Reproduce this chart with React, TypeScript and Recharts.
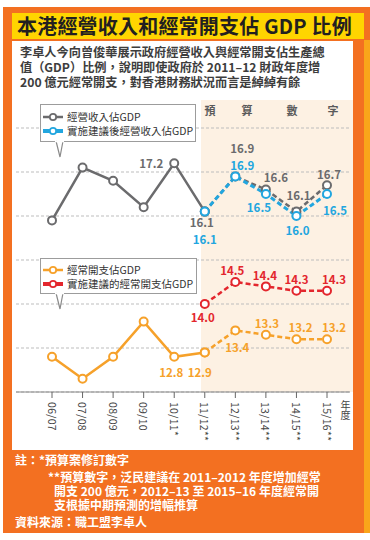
import React from 'react';
import { LineChart, Line, XAxis, YAxis, CartesianGrid, Legend, LabelList } from 'recharts';

const years = ['06/07', '07/08', '08/09', '09/10', '10/11*', '11/12**', '12/13**', '13/14**', '14/15**', '15/16**'];
const incomeRatio = [15.9, 17.1, 16.8, 16.2, 17.2, 16.1, 16.9, 16.6, 16.1, 16.7];
const proposedIncomeRatio = [null, null, null, null, null, 16.1, 16.9, 16.5, 16.0, 16.5];
const expenditureRatio = [12.8, 12.3, 12.8, 13.6, 12.8, 12.9, 13.4, 13.3, 13.2, 13.2];
const proposedExpenditureRatio = [null, null, null, null, null, 14.0, 14.5, 14.4, 14.3, 14.3];
const forecastStart = 5;
const yTicks = [12, 13, 14, 15, 16, 17, 18];

const seriesNames = {
  income: '經營收入佔GDP',
  proposedIncome: '實施建議後經營收入佔GDP',
  expenditure: '經常開支佔GDP',
  proposedExpenditure: '實施建議的經常開支佔GDP',
};

const COLORS = {
  income: '#6b6b6d',
  proposedIncome: '#22a6df',
  expenditure: '#f6a12a',
  proposedExpenditure: '#e3262d',
};

// label placement (offsets from point), styling only
const incomeLabelPos: Record<number, [number, number]> = { 4: [-23, 0], 5: [-3, 10], 6: [7, -28], 7: [10, -13], 8: [2, -17], 9: [2, -11] };
const proposedIncomeLabelPos: Record<number, [number, number]> = { 5: [0, 27], 6: [7, -11], 7: [-7, 13], 8: [1, 14], 9: [8, 16] };
const expenditureLabelPos: Record<number, [number, number]> = { 4: [-3, 15], 5: [-5, 20], 6: [2, 17], 7: [1, -12], 8: [4, -12], 9: [7, -12] };
const proposedExpenditureLabelPos: Record<number, [number, number]> = { 5: [-2, 13], 6: [-3, -12], 7: [-1, -11], 8: [0, -12], 9: [7, -12] };

const data = years.map((year, i) => ({
  year,
  incomeActual: i <= forecastStart ? incomeRatio[i] : null,
  incomeForecast: i >= forecastStart ? incomeRatio[i] : null,
  proposedIncome: proposedIncomeRatio[i],
  expenditureActual: i <= forecastStart ? expenditureRatio[i] : null,
  expenditureForecast: i >= forecastStart ? expenditureRatio[i] : null,
  proposedExpenditure: proposedExpenditureRatio[i],
}));

const FONT = '"Noto Sans CJK TC", "Noto Sans", sans-serif';

const makeLabel = (pos: Record<number, [number, number]>, color: string, from: number, to: number) => (props: any) => {
  const { x, y, index, value } = props;
  if (value == null || index < from || index > to) return null;
  const p = pos[index];
  if (!p) return null;
  return (
    <text x={x + p[0]} y={y + p[1]} textAnchor="middle" dominantBaseline="central" fontSize={11.5} fontWeight={600} fill={color} fontFamily={FONT}>
      {Number(value).toFixed(1)}
    </text>
  );
};

const YTick = (props: any) => {
  const { y, payload } = props;
  if (payload.value === 18) {
    return (
      <text x={20} y={y + 10} dominantBaseline="central" fontSize={11} fill="#666" fontFamily={FONT}>%</text>
    );
  }
  return (
    <text x={19} y={y - 10} dominantBaseline="central" fontSize={11.5} fill="#666" fontFamily={FONT}>{payload.value}</text>
  );
};

const XTick = (props: any) => {
  const { x, y, payload } = props;
  const yy = y + 2;
  return (
    <text x={x} y={yy} transform={`rotate(90 ${x} ${yy})`} textAnchor="start" dominantBaseline="central" fontSize={10.5} letterSpacing={0.3} fill="#444" fontFamily={FONT}>
      {payload.value}
    </text>
  );
};

const boxes = [
  { left: 40, top: 104, w: 156, h: 38, rows: [seriesNames.income, seriesNames.proposedIncome], rowY: [12, 26] },
  { left: 40, top: 258, w: 157, h: 36, rows: [seriesNames.expenditure, seriesNames.proposedExpenditure], rowY: [11, 25] },
];

const LegendBoxes = (props: any) => {
  const payload = props.payload || [];
  const colorOf = (name: string) => {
    const e = payload.find((p: any) => p.value === name);
    return e ? e.color : '#888';
  };
  return (
    <div style={{ position: 'relative', height: 0, width: 0 }}>
      {boxes.map((b, bi) => (
        <React.Fragment key={bi}>
          <div style={{ position: 'absolute', left: b.left, top: b.top, width: b.w, height: b.h, border: '1.5px solid #9c9c9c', background: '#fff', boxSizing: 'border-box' }}>
            {b.rows.map((name, ri) => (
              <div key={name} style={{ position: 'absolute', left: 1, top: b.rowY[ri] - 6, height: 12, display: 'flex', alignItems: 'center', whiteSpace: 'nowrap' }}>
                <svg width={22} height={10} style={{ display: 'block' }}>
                  <line x1={1} y1={5} x2={21} y2={5} stroke={colorOf(name)} strokeWidth={ri === 1 ? 4 : 2.5} />
                  <circle cx={11} cy={5} r={3.2} fill="#fff" stroke={colorOf(name)} strokeWidth={1.8} />
                </svg>
                <span style={{ fontSize: 10.5, color: '#333', marginLeft: 3, fontFamily: FONT, lineHeight: '12px' }}>{name}</span>
              </div>
            ))}
          </div>
          <svg style={{ position: 'absolute', left: 54, top: b.top + b.h - 1.5, overflow: 'visible' }} width={12} height={18}>
            <polyline points="2,0 6,16 9,0" fill="#fff" stroke="#8a8a8a" strokeWidth={1.2} />
            <line x1={1} y1={0.6} x2={10} y2={0.6} stroke="#fff" strokeWidth={1.4} />
          </svg>
        </React.Fragment>
      ))}
    </div>
  );
};

const forecastHeads = [
  { ch: '預', x: 210 },
  { ch: '算', x: 247 },
  { ch: '數', x: 292 },
  { ch: '字', x: 333 },
];

const subtitle = '李卓人今向曾俊華展示政府經營收入與經常開支佔生產總\n值（GDP）比例，說明即使政府於 2011–12 財政年度增\n200 億元經常開支，對香港財務狀況而言是綽綽有餘';

const noteHead = '註：*預算案修訂數字';
const noteBody = '**預算數字，泛民建議在 2011–2012 年度增加經常\n開支 200 億元，2012–13 至 2015–16 年度經常開\n支根據中期預測的增幅推算';
const noteSource = '資料來源：職工盟李卓人';

export default function App() {
  return (
    <div style={{ position: 'absolute', left: 0, top: 0, width: 370, height: 540, background: '#fff', overflow: 'hidden', fontFamily: FONT }}>
      {/* orange frame */}
      <div style={{ position: 'absolute', left: 3, top: 7, width: 367, height: 526, background: '#f37021' }} />
      <div style={{ position: 'absolute', left: 364, top: 40, width: 6, height: 493, background: '#f9a51a' }} />
      {/* title bar */}
      <div style={{ position: 'absolute', left: 12, top: 13, width: 352, height: 26, background: '#ffd500' }} />
      <div style={{ position: 'absolute', left: 17, top: 13, height: 26, lineHeight: '26px', fontSize: 20, fontWeight: 700, color: '#231f20', whiteSpace: 'nowrap', letterSpacing: 0.2 }}>
        本港經營收入和經常開支佔 GDP 比例
      </div>
      {/* white panel */}
      <div style={{ position: 'absolute', left: 12, top: 41, width: 341, height: 409, background: '#fff' }} />
      {/* forecast shading */}
      <div style={{ position: 'absolute', left: 201, top: 100, width: 152, height: 292, background: '#fdf1e3' }} />
      <div style={{ position: 'absolute', left: 20, top: 45, lineHeight: '15px', fontSize: 12.2, fontWeight: 700, color: '#3d3d3d', whiteSpace: 'pre' }}>{subtitle}</div>
      {forecastHeads.map((h) => (
        <div key={h.ch} style={{ position: 'absolute', left: h.x - 6, top: 103, width: 12, textAlign: 'center', fontSize: 11, fontWeight: 700, color: '#5a5a5a', lineHeight: '14px' }}>{h.ch}</div>
      ))}
      <div style={{ position: 'absolute', left: 339, top: 400, width: 12, fontSize: 10, lineHeight: '12px', color: '#444', writingMode: 'vertical-rl' as any }}>年度</div>

      <div style={{ position: 'absolute', left: 0, top: 0 }}>
        <LineChart width={370} height={540} data={data} margin={{ top: 128, right: 20, bottom: 108, left: 16 }}>
          <CartesianGrid horizontal vertical={false} stroke="#bdbdbd" strokeDasharray="3 2" />
          <XAxis
            dataKey="year"
            height={40}
            padding={{ left: 36, right: 23 }}
            interval={0}
            tick={<XTick />}
            tickSize={6}
            tickLine={{ stroke: '#666' }}
            axisLine={{ stroke: '#888', strokeWidth: 1.2 }}
          />
          <YAxis width={0} domain={[12, 18]} ticks={yTicks} type="number" axisLine={false} tickLine={false} tick={<YTick />} interval={0} />
          <Line dataKey="incomeActual" name={seriesNames.income} stroke={COLORS.income} strokeWidth={2.5} isAnimationActive={false} connectNulls={false}
            dot={{ r: 4, fill: '#fff', stroke: COLORS.income, strokeWidth: 2 }}>
            <LabelList dataKey="incomeActual" content={makeLabel(incomeLabelPos, '#6b6b6d', 0, forecastStart - 1)} />
          </Line>
          <Line dataKey="incomeForecast" name="income-forecast" legendType="none" stroke={COLORS.income} strokeWidth={2.5} strokeDasharray="5 3" isAnimationActive={false}
            dot={{ r: 4, fill: '#fff', stroke: COLORS.income, strokeWidth: 2, strokeDasharray: '0' }}>
            <LabelList dataKey="incomeForecast" content={makeLabel(incomeLabelPos, '#6b6b6d', forecastStart, 99)} />
          </Line>
          <Line dataKey="proposedIncome" name={seriesNames.proposedIncome} stroke={COLORS.proposedIncome} strokeWidth={3} strokeDasharray="5 3" isAnimationActive={false}
            dot={{ r: 4, fill: '#fff', stroke: COLORS.proposedIncome, strokeWidth: 2, strokeDasharray: '0' }}>
            <LabelList dataKey="proposedIncome" content={makeLabel(proposedIncomeLabelPos, COLORS.proposedIncome, 0, 99)} />
          </Line>
          <Line dataKey="expenditureActual" name={seriesNames.expenditure} stroke={COLORS.expenditure} strokeWidth={2.5} isAnimationActive={false}
            dot={{ r: 4, fill: '#fff', stroke: COLORS.expenditure, strokeWidth: 2 }}>
            <LabelList dataKey="expenditureActual" content={makeLabel(expenditureLabelPos, COLORS.expenditure, 0, forecastStart - 1)} />
          </Line>
          <Line dataKey="expenditureForecast" name="expenditure-forecast" legendType="none" stroke={COLORS.expenditure} strokeWidth={2.5} strokeDasharray="5 3" isAnimationActive={false}
            dot={{ r: 4, fill: '#fff', stroke: COLORS.expenditure, strokeWidth: 2, strokeDasharray: '0' }}>
            <LabelList dataKey="expenditureForecast" content={makeLabel(expenditureLabelPos, COLORS.expenditure, forecastStart, 99)} />
          </Line>
          <Line dataKey="proposedExpenditure" name={seriesNames.proposedExpenditure} stroke={COLORS.proposedExpenditure} strokeWidth={2.5} strokeDasharray="5 3" isAnimationActive={false}
            dot={{ r: 4, fill: '#fff', stroke: COLORS.proposedExpenditure, strokeWidth: 2, strokeDasharray: '0' }}>
            <LabelList dataKey="proposedExpenditure" content={makeLabel(proposedExpenditureLabelPos, COLORS.proposedExpenditure, 0, 99)} />
          </Line>
          <Legend content={<LegendBoxes />} wrapperStyle={{ position: 'absolute', left: 0, top: 0, width: 0, height: 0 }} />
        </LineChart>
      </div>

      <div style={{ position: 'absolute', left: 15, top: 452.5, height: 14, lineHeight: '14px', fontSize: 12, fontWeight: 700, color: '#fff', whiteSpace: 'nowrap' }}>{noteHead}</div>
      <div style={{ position: 'absolute', left: 54, top: 470, lineHeight: '14px', fontSize: 12, fontWeight: 700, color: '#fff', whiteSpace: 'pre', textIndent: -6 }}>{noteBody}</div>
      <div style={{ position: 'absolute', left: 15, top: 514.5, height: 14, lineHeight: '14px', fontSize: 12, fontWeight: 700, color: '#fff', whiteSpace: 'nowrap' }}>{noteSource}</div>
    </div>
  );
}
